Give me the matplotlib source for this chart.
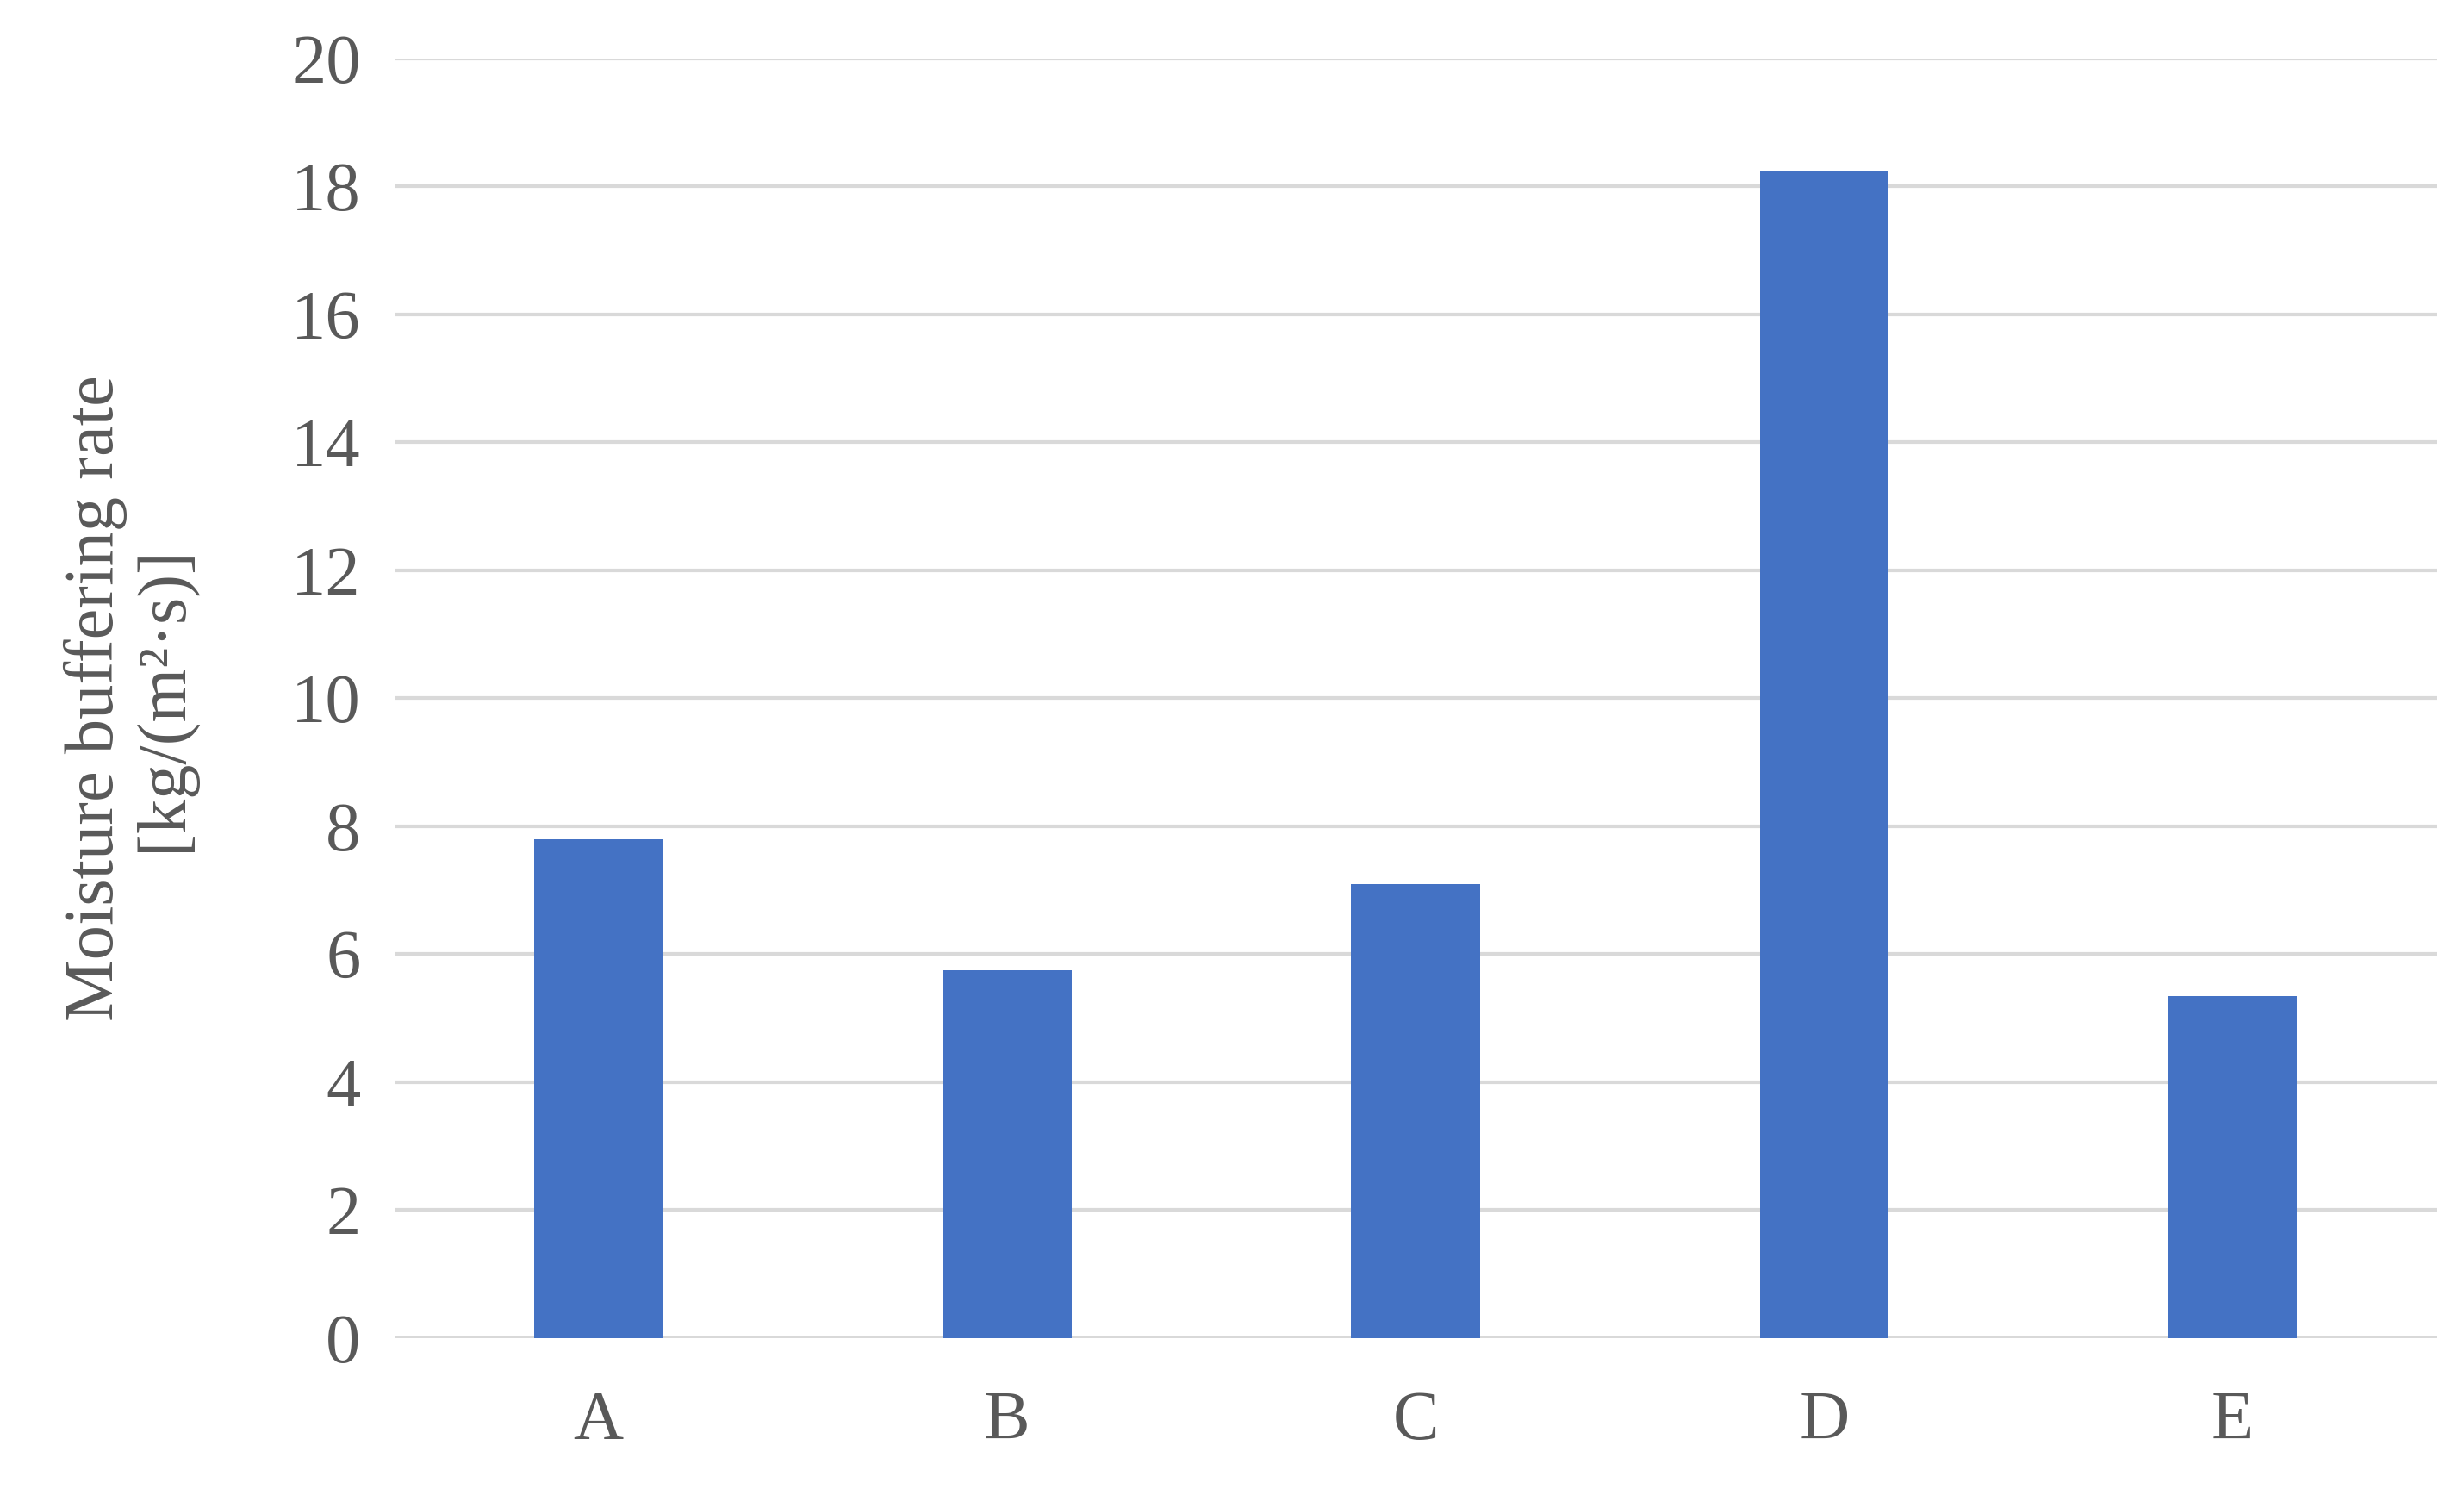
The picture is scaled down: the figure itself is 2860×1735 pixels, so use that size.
import matplotlib
matplotlib.use("Agg")
import matplotlib.pyplot as plt

categories = ['A', 'B', 'C', 'D', 'E']
values = [7.8, 5.75, 7.1, 18.25, 5.35]

plt.rcParams['font.family'] = ['Liberation Serif', 'DejaVu Serif']
gray = '#595959'

fig = plt.figure(figsize=(14.3, 8.675), dpi=200)
ax = fig.add_axes([0.160, 0.105, 0.829, 0.856])

x_pos = list(range(len(categories)))
ax.bar(x_pos, values, width=0.315, color='#4472C4', zorder=3)

ax.set_xlim(-0.5, len(categories) - 0.5)
ax.set_ylim(0, 20)
ax.set_yticks(range(0, 21, 2))
ax.set_xticks(x_pos, categories)
ax.grid(axis='y', color='#D9D9D9', linewidth=1.5, zorder=0)
for s in ax.spines.values():
    s.set_visible(False)
ax.tick_params(length=0, labelsize=29, colors=gray, pad=14)
ax.tick_params(axis='x', pad=22)
ax.set_ylabel("Moisture buffering rate\n[kg/(m²·s)]", fontsize=29, color=gray,
              labelpad=40, linespacing=1.1)

fig.savefig("out.png", dpi=200)
